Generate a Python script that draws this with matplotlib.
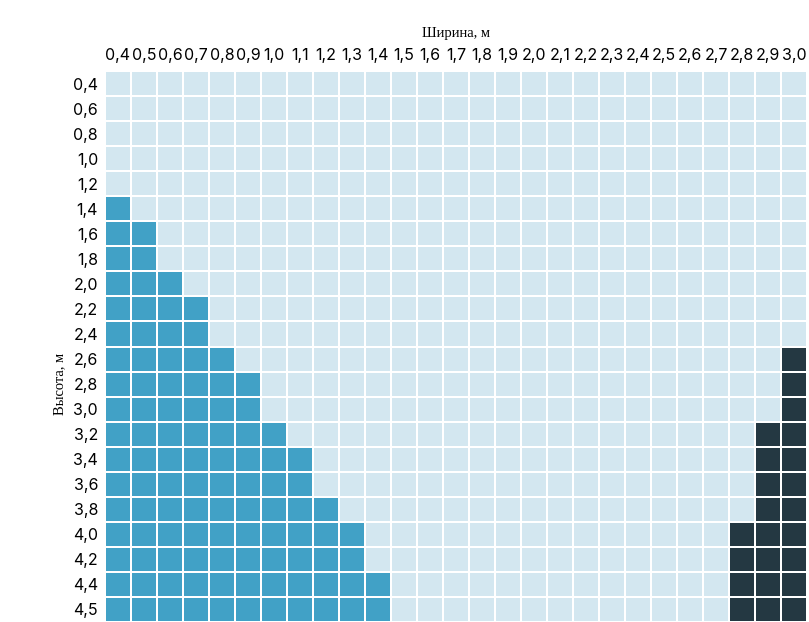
import numpy as np
import matplotlib.pyplot as plt
from matplotlib.colors import ListedColormap

widths = ['0,4', '0,5', '0,6', '0,7', '0,8', '0,9', '1,0', '1,1', '1,2', '1,3', '1,4',
          '1,5', '1,6', '1,7', '1,8', '1,9', '2,0', '2,1', '2,2', '2,3', '2,4', '2,5',
          '2,6', '2,7', '2,8', '2,9', '3,0']
heights = ['0,4', '0,6', '0,8', '1,0', '1,2', '1,4', '1,6', '1,8', '2,0', '2,2', '2,4',
           '2,6', '2,8', '3,0', '3,2', '3,4', '3,6', '3,8', '4,0', '4,2', '4,4', '4,5']

# number of cells in each row that are marked (from the left / from the right)
blue_count = [0, 0, 0, 0, 0, 1, 2, 2, 3, 4, 4, 5, 6, 6, 7, 8, 8, 9, 10, 10, 11, 11]
dark_count = [0, 0, 0, 0, 0, 0, 0, 0, 0, 0, 0, 1, 1, 1, 2, 2, 2, 2, 3, 3, 3, 3]

colors = ['#d3e7f0', '#41a1c6', '#243842']

n_rows, n_cols = len(heights), len(widths)
grid = np.zeros((n_rows, n_cols))
for i in range(n_rows):
    grid[i, :blue_count[i]] = 1
    if dark_count[i]:
        grid[i, n_cols - dark_count[i]:] = 2

fig = plt.figure(figsize=(8.09, 6.22), dpi=100)
ax = fig.add_axes([105 / 809, 0, 702 / 809, 551 / 622])

ax.pcolormesh(grid, cmap=ListedColormap(colors), vmin=-0.5, vmax=2.5,
              edgecolors='white', linewidth=1.3)
ax.set_xlim(0, n_cols)
ax.set_ylim(n_rows, 0)

ax.xaxis.tick_top()
ax.set_xticks(np.arange(n_cols) + 0.5)
ax.set_xticklabels(widths, fontfamily='Inter', fontsize=11.5)
ax.set_yticks(np.arange(n_rows) + 0.5)
ax.set_yticklabels(heights, fontfamily='Inter', fontsize=11.5)
ax.tick_params(axis='x', length=0, pad=6)
ax.tick_params(axis='y', length=0, pad=5)
for s in ax.spines.values():
    s.set_visible(False)

fig.text(456 / 809, 1 - 33 / 622, 'Ширина, м', ha='center', va='center',
         fontfamily='Liberation Serif', fontsize=10.5)
fig.text(60 / 809, 1 - 384 / 622, 'Высота, м', ha='center', va='center',
         rotation=90, fontfamily='Liberation Serif', fontsize=10.5)

fig.savefig('out.png', dpi=100)
